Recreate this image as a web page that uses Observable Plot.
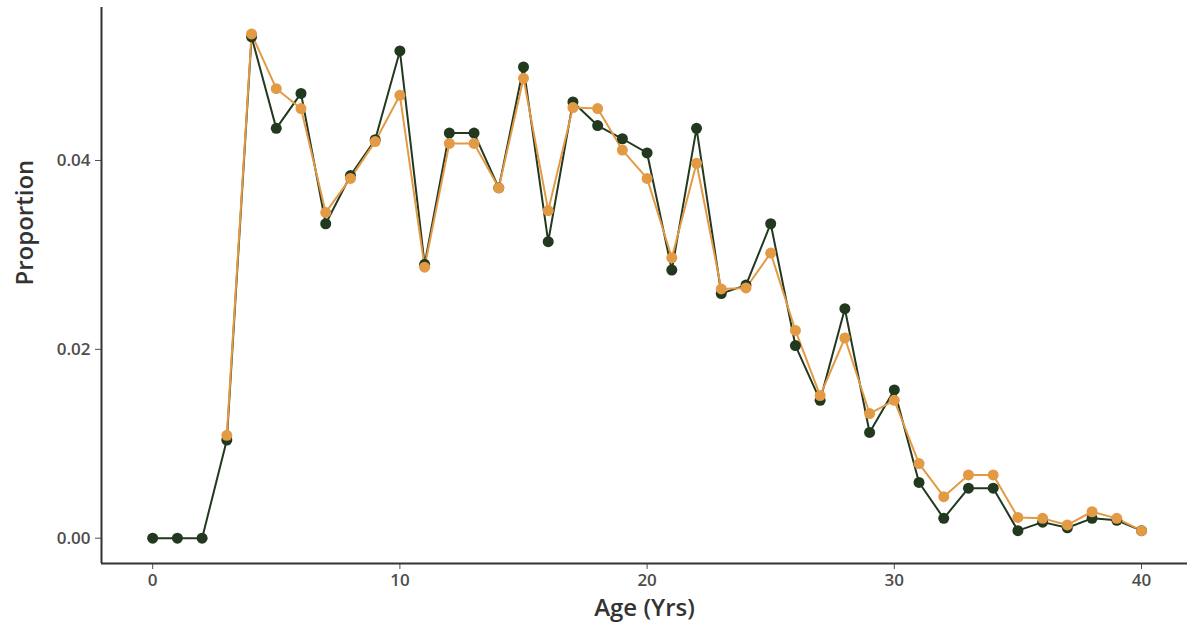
<!DOCTYPE html>
<html>
<head>
<meta charset="utf-8">
<script src="https://cdn.jsdelivr.net/npm/d3@7"></script>
<script src="https://cdn.jsdelivr.net/npm/@observablehq/plot@0.6"></script>
<style>
  html, body { margin: 0; padding: 0; background: #ffffff; }
</style>
</head>
<body>
<div id="chart"></div>
<script>
const ages = [0,1,2,3,4,5,6,7,8,9,10,11,12,13,14,15,16,17,18,19,20,21,22,23,24,25,26,27,28,29,30,31,32,33,34,35,36,37,38,39,40];
const darkValues = [0,0,0,0.0104,0.0531,0.0434,0.0471,0.0333,0.0384,0.0422,0.0516,0.0290,0.0429,0.0429,0.0371,0.0499,0.0314,0.0462,0.0437,0.0423,0.0408,0.0284,0.0434,0.0259,0.0268,0.0333,0.0204,0.0146,0.0243,0.0112,0.0157,0.0059,0.0021,0.0053,0.0053,0.0008,0.0017,0.0011,0.0021,0.0019,0.0008];
const orangeAges = [3,4,5,6,7,8,9,10,11,12,13,14,15,16,17,18,19,20,21,22,23,24,25,26,27,28,29,30,31,32,33,34,35,36,37,38,39,40];
const orangeValues = [0.0109,0.0534,0.0476,0.0455,0.0345,0.0381,0.0420,0.0469,0.0287,0.0418,0.0418,0.0371,0.0487,0.0347,0.0456,0.0455,0.0411,0.0381,0.0297,0.0397,0.0264,0.0265,0.0302,0.0220,0.0151,0.0212,0.0132,0.0146,0.0079,0.0044,0.0067,0.0067,0.0022,0.0021,0.0014,0.0028,0.0021,0.0008];
const xTicks = [0,10,20,30,40];
const yTicks = [0,0.02,0.04];
const xTitle = "Age (Yrs)";
const yTitle = "Proportion";

const dark = ages.map((a,i) => ({age: a, value: darkValues[i]}));
const orange = orangeAges.map((a,i) => ({age: a, value: orangeValues[i]}));

const darkColor = "#22381f";
const orangeColor = "#e39a45";
const xDomain = [-2.07, 41.86];
const yDomain = [-0.00268, 0.0562];

const chart = Plot.plot({
  width: 1187,
  height: 634,
  marginLeft: 101,
  marginRight: 0,
  marginTop: 7,
  marginBottom: 71,
  style: {fontFamily: "'Open Sans', sans-serif", fontSize: "17px", fontWeight: 600, color: "#4d4d4d", background: "#ffffff"},
  x: {domain: xDomain, ticks: xTicks, tickSize: 6, tickPadding: 4, tickFormat: d => String(d), label: null},
  y: {domain: yDomain, ticks: yTicks, tickSize: 6, tickPadding: 5, tickFormat: d3.format(".2f"), label: null},
  marks: [
    Plot.ruleX([xDomain[0]], {y1: yDomain[0], y2: yDomain[1], stroke: "#333333", strokeWidth: 2}),
    Plot.ruleY([yDomain[0]], {x1: xDomain[0], x2: xDomain[1], stroke: "#333333", strokeWidth: 2}),
    Plot.line(dark, {x: "age", y: "value", stroke: darkColor, strokeWidth: 2}),
    Plot.line(orange, {x: "age", y: "value", stroke: orangeColor, strokeWidth: 2}),
    Plot.dot(dark, {x: "age", y: "value", r: 5.5, fill: darkColor, stroke: "none"}),
    Plot.dot(orange, {x: "age", y: "value", r: 5.5, fill: orangeColor, stroke: "none"}),
    Plot.text([xTitle], {frameAnchor: "bottom", dy: 52, text: d => d, fontSize: 24, fontWeight: 600, fill: "#333333"}),
    Plot.text([yTitle], {frameAnchor: "left", dx: -76, rotate: -90, text: d => d, fontSize: 24, fontWeight: 600, fill: "#333333"})
  ]
});
document.getElementById("chart").appendChild(chart);
</script>
</body>
</html>
